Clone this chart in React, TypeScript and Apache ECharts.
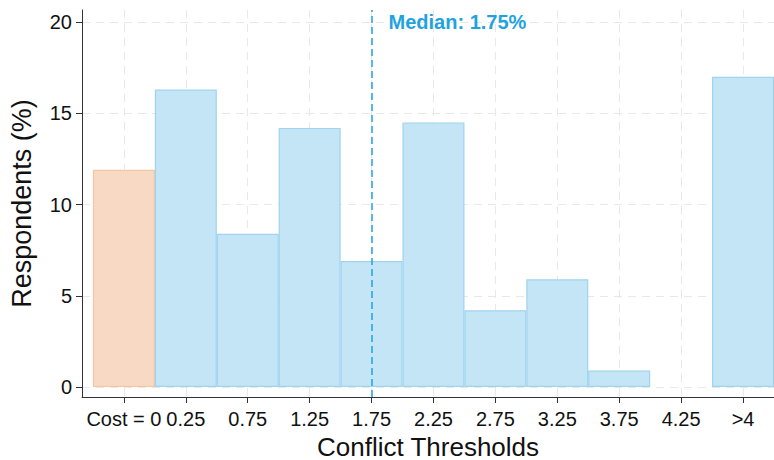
import React, { useEffect, useRef } from "react";
import * as echarts from "echarts";

const categories = ["Cost = 0", "0.25", "0.75", "1.25", "1.75", "2.25", "2.75", "3.25", "3.75", "4.25", ">4"];
const values = [11.9, 16.3, 8.4, 14.2, 6.9, 14.5, 4.2, 5.9, 0.9, 0, 17.0];
const yTicks = [0, 5, 10, 15, 20];
const medianCategory = "1.75";
const medianText = "Median: 1.75%";

const BLUE_FILL = "#c3e5f5";
const BLUE_BORDER = "#9fd3ee";
const ORANGE_FILL = "#f8dac4";
const ORANGE_BORDER = "#f5c6a0";
const MEDIAN_COLOR = "#1fa3e0";
const FONT = "Arial, 'Liberation Sans', sans-serif";

export default function App() {
  const ref = useRef<HTMLDivElement>(null);
  useEffect(() => {
    if (!ref.current) return;
    document.body.style.margin = "0";
    const chart = echarts.init(ref.current, undefined, { renderer: "svg" });
    const medianIdx = categories.indexOf(medianCategory);
    const tickIdx = categories.map((_, i) => i);
    const data = values.map((v, i) => ({
      value: [i, v],
      itemStyle: {
        color: i === 0 ? ORANGE_FILL : BLUE_FILL,
        borderColor: i === 0 ? ORANGE_BORDER : BLUE_BORDER,
        borderWidth: v === 0 ? 0 : 1.2,
      },
    }));
    chart.setOption({
      animation: false,
      backgroundColor: "#ffffff",
      grid: { left: 82, right: 0, top: 10, bottom: 63, containLabel: false, outerBoundsMode: "none" },
      xAxis: {
        type: "value",
        min: -0.677,
        max: 10.5,
        name: "Conflict Thresholds",
        nameLocation: "middle",
        nameGap: 28,
        nameTextStyle: { fontFamily: FONT, fontSize: 26, lineHeight: 26, color: "#111" },
        axisLine: { show: true, onZero: false, lineStyle: { color: "#333", width: 1 } },
        axisTick: { show: true, length: 6, lineStyle: { color: "#333" }, customValues: tickIdx },
        axisLabel: {
          customValues: tickIdx,
          formatter: (v: number) => categories[Math.round(v)] ?? "",
          fontFamily: FONT,
          fontSize: 20,
          color: "#111",
          margin: 12,
        },
        splitLine: { show: true, lineStyle: { color: "#e8e8e8", type: [8, 6], width: 1 } },
      },
      yAxis: {
        type: "value",
        min: -0.548,
        max: 20.66,
        name: "Respondents (%)",
        nameLocation: "middle",
        nameGap: 47,
        nameTextStyle: { fontFamily: FONT, fontSize: 27, color: "#111" },
        axisLine: { show: true, onZero: false, lineStyle: { color: "#333", width: 1 } },
        axisTick: { show: true, length: 6, lineStyle: { color: "#333" }, customValues: yTicks },
        axisLabel: {
          customValues: yTicks,
          fontFamily: FONT,
          fontSize: 20,
          color: "#111",
          margin: 10,
        },
        splitLine: { show: true, lineStyle: { color: "#e8e8e8", type: [8, 6], width: 1 } },
      },
      series: [
        {
          type: "bar",
          data,
          barWidth: 62,
          markLine: {
            silent: true,
            symbol: "none",
            label: { show: false },
            lineStyle: { color: MEDIAN_COLOR, type: [7, 4], width: 1.5 },
            data: [{ xAxis: medianIdx }],
          },
          markPoint: {
            silent: true,
            symbol: "circle",
            symbolSize: 0,
            data: [{ coord: [medianIdx, yTicks[yTicks.length - 1]] }],
            label: {
              show: true,
              position: "right",
              distance: 17,
              formatter: medianText,
              fontFamily: FONT,
              fontSize: 20,
              fontWeight: "bold",
              color: MEDIAN_COLOR,
            },
          },
        },
      ],
    });
    return () => chart.dispose();
  }, []);
  return <div ref={ref} style={{ width: 774, height: 460 }} />;
}
